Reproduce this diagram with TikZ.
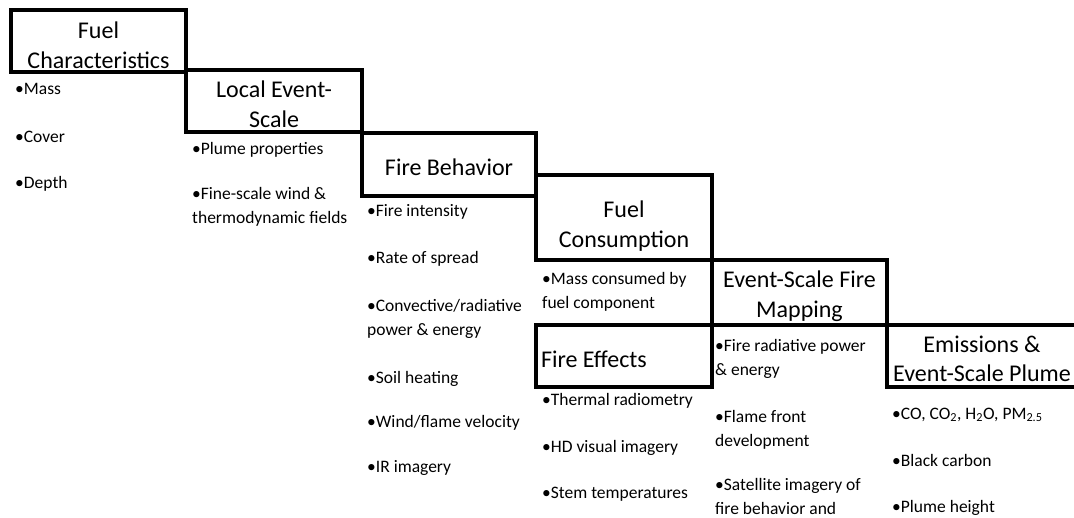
\documentclass[tikz,border=0pt]{standalone}
\usepackage{fontspec}
\setmainfont{Carlito}

\begin{document}
\begin{tikzpicture}[x=1pt,y=-1pt,
    titlebox/.style={draw,line width=3.6pt,inner sep=0pt,align=center,anchor=base,
      font=\fontsize{24}{30}\selectfont},
    itemtext/.style={anchor=base west,inner sep=0pt,align=flush left,
      font=\fontsize{17.5}{24}\selectfont}]
    \useasboundingbox (0,0) rectangle (1074,517);
    \clip (0,0) rectangle (1074,517);

    % stages (placed at the baseline of their last line)
    \node[titlebox,minimum width=175,text height=58,text depth=4] (fuelchar) at (98.5,68) {Fuel\\Characteristics};
    \node[titlebox,minimum width=176,text height=57,text depth=5] (localscale) at (274,127) {Local Event-\\Scale};
    \node[titlebox,minimum width=174,text height=42,text depth=21] (firebeh) at (449,175) {Fire Behavior};
    \node[titlebox,minimum width=176,text height=72,text depth=13] (fuelcons) at (624,247) {Fuel\\Consumption};
    \node[titlebox,minimum width=175,text height=57,text depth=8] (firemap) at (799.5,317) {Event-Scale Fire\\Mapping};
    \node[titlebox,minimum width=176,text height=42,text depth=20,text width=166,inner xsep=5pt,align=flush left] (fireeff) at (624,367) {Fire Effects};
    \node[titlebox,minimum width=190,text height=56,text depth=6,font=\fontsize{24}{29}\selectfont] (emis) at (982,381) {Emissions \&\\Event-Scale Plume};

    % items (base = last line)
    \node[itemtext] (mass) at (15,94) {•Mass};
    \node[itemtext] (cover) at (15,142) {•Cover};
    \node[itemtext] (depth) at (15,188) {•Depth};

    \node[itemtext] (plume) at (192,154) {•Plume properties};
    \node[itemtext] (wind) at (192,223) {•Fine-scale wind \&\\thermodynamic fields};

    \node[itemtext] (intens) at (367,216) {•Fire intensity};
    \node[itemtext] (spread) at (367,263) {•Rate of spread};
    \node[itemtext] (power) at (367,335) {•Convective/radiative\\power \& energy};
    \node[itemtext] (soil) at (367,383) {•Soil heating};
    \node[itemtext] (flame) at (367,427) {•Wind/flame velocity};
    \node[itemtext] (ir) at (367,472) {•IR imagery};

    \node[itemtext] (consumed) at (542,308) {•Mass consumed by\\fuel component};
    \node[itemtext] (radiom) at (542,405) {•Thermal radiometry};
    \node[itemtext] (visual) at (542,452) {•HD visual imagery};
    \node[itemtext] (stem) at (542,498) {•Stem temperatures};

    \node[itemtext] (frp) at (715,375) {•Fire radiative power\\\& energy};
    \node[itemtext] (front) at (715,446) {•Flame front\\development};
    \node[itemtext] (sat) at (715,514) {•Satellite imagery of\\fire behavior and};

    \node[itemtext] (gases) at (892,419) {•CO, CO\textsubscript{2}, H\textsubscript{2}O, PM\textsubscript{2.5}};
    \node[itemtext] (carbon) at (892,466) {•Black carbon};
    \node[itemtext] (height) at (892,512) {•Plume height};
\end{tikzpicture}
\end{document}
